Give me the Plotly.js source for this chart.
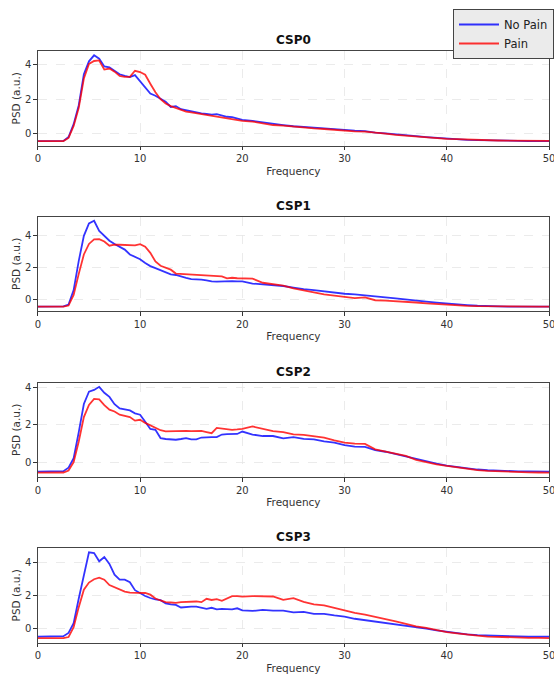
<!DOCTYPE html>
<html>
<head>
<meta charset="utf-8">
<script src="https://cdn.plot.ly/plotly-3.0.1.min.js"></script>
<style>html,body{margin:0;padding:0;background:#fff;}#chart{width:554px;height:677px;}</style>
</head>
<body>
<div id="chart"></div>
<script>
// Frequency grid (Hz)
const freq = [0,0.5,1,1.5,2,2.5,3,3.5,4,4.5,5,5.5,6,6.5,7,7.5,8,8.5,9,9.5,10,10.5,11,11.5,12,12.5,13,13.5,14,14.5,15,15.5,16,16.5,17,17.5,18,18.5,19,19.5,20,
  21,22,23,24,25,26,27,28,29,30,31,32,33,34,35,36,37,38,39,40,41,42,43,44,45,46,47,48,49,50];

const panelTitles = ["CSP0","CSP1","CSP2","CSP3"];
const seriesNames = ["No Pain","Pain"];
const xTicks = [0, 10, 20, 30, 40, 50];
const yTicks = [0, 2, 4];

const csp0NoPain = [-0.44,-0.44,-0.44,-0.44,-0.44,-0.42,-0.2,0.55,1.65,3.45,4.2,4.55,4.35,3.9,3.85,3.65,3.45,3.35,3.28,3.4,3.05,2.65,2.33,2.2,2.02,1.85,1.55,1.6,1.42,1.35,1.3,1.22,1.18,1.14,1.1,1.13,1.05,0.98,0.96,0.88,0.8,
  0.74,0.65,0.56,0.5,0.43,0.37,0.35,0.3,0.25,0.22,0.17,0.15,0.06,0.02,-0.05,-0.1,-0.15,-0.2,-0.25,-0.3,-0.33,-0.36,-0.38,-0.4,-0.41,-0.42,-0.42,-0.43,-0.43,-0.43];
const csp0Pain = [-0.44,-0.44,-0.44,-0.44,-0.44,-0.43,-0.25,0.45,1.5,3.2,4.05,4.22,4.25,3.72,3.78,3.6,3.35,3.3,3.3,3.65,3.58,3.42,2.9,2.4,2.0,1.75,1.6,1.5,1.38,1.28,1.23,1.18,1.13,1.1,1.05,1.0,0.95,0.86,0.84,0.78,0.74,
  0.7,0.6,0.5,0.47,0.4,0.35,0.3,0.27,0.22,0.18,0.13,0.12,0.04,0.0,-0.07,-0.12,-0.17,-0.21,-0.26,-0.3,-0.32,-0.35,-0.38,-0.39,-0.4,-0.41,-0.42,-0.42,-0.42,-0.42];

const csp1NoPain = [-0.43,-0.43,-0.43,-0.43,-0.43,-0.41,-0.3,0.6,2.4,3.95,4.72,4.88,4.25,3.95,3.65,3.45,3.3,3.1,2.8,2.65,2.5,2.27,2.08,1.95,1.82,1.68,1.57,1.53,1.42,1.35,1.28,1.27,1.24,1.2,1.13,1.12,1.13,1.16,1.15,1.13,1.14,
  1.0,0.95,0.9,0.85,0.75,0.65,0.6,0.52,0.47,0.37,0.33,0.28,0.2,0.15,0.08,0.0,-0.06,-0.12,-0.18,-0.24,-0.29,-0.33,-0.37,-0.4,-0.42,-0.43,-0.43,-0.43,-0.43,-0.43];
const csp1Pain = [-0.43,-0.43,-0.43,-0.43,-0.43,-0.42,-0.36,0.3,1.6,2.8,3.45,3.73,3.75,3.6,3.34,3.4,3.4,3.4,3.38,3.36,3.44,3.28,2.9,2.37,2.1,1.98,1.86,1.62,1.6,1.6,1.57,1.55,1.5,1.52,1.48,1.47,1.44,1.32,1.36,1.33,1.32,
  1.3,1.05,0.97,0.87,0.7,0.57,0.43,0.33,0.25,0.17,0.1,0.15,-0.03,-0.05,-0.08,-0.13,-0.17,-0.22,-0.27,-0.31,-0.35,-0.38,-0.4,-0.41,-0.42,-0.42,-0.42,-0.42,-0.42,-0.42];

const csp2NoPain = [-0.51,-0.51,-0.51,-0.51,-0.51,-0.49,-0.3,0.2,1.6,3.1,3.76,3.85,4.02,3.7,3.48,3.09,2.86,2.83,2.76,2.6,2.53,2.15,1.77,1.72,1.28,1.23,1.2,1.19,1.23,1.28,1.21,1.21,1.31,1.33,1.33,1.33,1.47,1.49,1.5,1.5,1.63,
  1.47,1.39,1.39,1.26,1.33,1.24,1.21,1.1,1.04,0.9,0.82,0.81,0.64,0.55,0.42,0.3,0.17,0.04,-0.08,-0.19,-0.27,-0.35,-0.4,-0.44,-0.47,-0.49,-0.5,-0.5,-0.51,-0.51];
const csp2Pain = [-0.57,-0.57,-0.57,-0.57,-0.57,-0.56,-0.45,0.0,1.1,2.4,3.05,3.37,3.35,3.04,2.8,2.7,2.53,2.45,2.4,2.21,2.26,2.09,1.95,1.85,1.7,1.64,1.65,1.66,1.68,1.66,1.65,1.66,1.66,1.6,1.54,1.82,1.78,1.73,1.72,1.74,1.77,
  1.9,1.78,1.65,1.6,1.48,1.45,1.39,1.3,1.16,1.04,0.98,0.97,0.68,0.55,0.42,0.33,0.12,-0.02,-0.12,-0.21,-0.29,-0.37,-0.43,-0.47,-0.5,-0.52,-0.54,-0.55,-0.56,-0.57];

const csp3NoPain = [-0.48,-0.48,-0.48,-0.48,-0.48,-0.45,-0.25,0.34,1.82,3.3,4.6,4.55,4.06,4.32,3.9,3.25,2.95,2.95,2.8,2.32,2.12,1.97,1.85,1.76,1.72,1.52,1.47,1.43,1.28,1.32,1.33,1.33,1.26,1.2,1.26,1.17,1.2,1.19,1.17,1.23,1.11,
  1.07,1.13,1.09,1.09,0.99,1.02,0.9,0.89,0.8,0.73,0.6,0.52,0.42,0.33,0.24,0.16,0.09,0.0,-0.1,-0.19,-0.28,-0.34,-0.38,-0.41,-0.44,-0.45,-0.46,-0.47,-0.48,-0.48];
const csp3Pain = [-0.57,-0.57,-0.57,-0.57,-0.57,-0.56,-0.5,0.1,1.3,2.35,2.78,2.98,3.07,2.95,2.63,2.5,2.35,2.23,2.17,2.16,2.17,2.15,2.05,1.82,1.7,1.6,1.58,1.56,1.6,1.62,1.62,1.64,1.6,1.8,1.73,1.78,1.68,1.82,1.96,1.96,1.93,
  1.96,1.95,1.94,1.74,1.84,1.62,1.47,1.4,1.25,1.1,0.95,0.85,0.7,0.58,0.45,0.28,0.14,0.05,-0.08,-0.2,-0.28,-0.36,-0.42,-0.47,-0.5,-0.52,-0.54,-0.55,-0.55,-0.56];

const noPainSets = [csp0NoPain, csp1NoPain, csp2NoPain, csp3NoPain];
const painSets = [csp0Pain, csp1Pain, csp2Pain, csp3Pain];

const W = 554, H = 677;
const xL = 38 / W, xR = 551 / W;
const tops = [51, 216.5, 382.5, 548];
const ph = 94.5;
const font = "DejaVu Sans, Arial, sans-serif";

const traces = [];
const layout = {
  width: W, height: H,
  margin: {l: 0, r: 0, t: 0, b: 0},
  paper_bgcolor: "#fff", plot_bgcolor: "#fff",
  font: {family: font, size: 10, color: "#333"},
  showlegend: true,
  legend: {
    x: 455 / W, y: 1 - 9 / H, xanchor: "left", yanchor: "top",
    bgcolor: "#ebebeb", bordercolor: "#444", borderwidth: 1,
    font: {family: font, size: 11.5, color: "#222"},
    itemwidth: 40, tracegroupgap: 0
  },
  annotations: []
};

for (let i = 0; i < 4; i++) {
  const sfx = i === 0 ? "" : String(i + 1);
  const yTop = 1 - tops[i] / H;
  const yBot = 1 - (tops[i] + ph) / H;
  const all = noPainSets[i].concat(painSets[i]);
  const mn = Math.min(...all), mx = Math.max(...all);
  const pad = (mx - mn) * 0.05;

  traces.push({
    x: freq, y: noPainSets[i], type: "scatter", mode: "lines",
    name: seriesNames[0], legendgroup: "np", showlegend: i === 0,
    line: {color: "rgba(0,0,255,0.8)", width: 1.8},
    xaxis: "x" + sfx, yaxis: "y" + sfx
  });
  traces.push({
    x: freq, y: painSets[i], type: "scatter", mode: "lines",
    name: seriesNames[1], legendgroup: "p", showlegend: i === 0,
    line: {color: "rgba(255,0,0,0.8)", width: 1.8},
    xaxis: "x" + sfx, yaxis: "y" + sfx
  });

  layout["xaxis" + sfx] = {
    domain: [xL, xR], anchor: "y" + sfx, range: [0, 50],
    tickvals: xTicks, ticks: "outside", ticklen: 3.5, tickcolor: "#333",
    ticklabeloverflow: "allow",
    showline: true, mirror: true, linecolor: "#444", linewidth: 1,
    showgrid: true, gridcolor: "#e6e6e6", griddash: "dash", gridwidth: 0.8,
    zeroline: false,
    tickfont: {family: font, size: 10, color: "#333"},
    title: {text: "Frequency", font: {family: font, size: 10.5, color: "#333"}, standoff: 4}
  };
  layout["yaxis" + sfx] = {
    domain: [yBot, yTop], anchor: "x" + sfx, range: [mn - pad, mx + pad],
    tickvals: yTicks, ticks: "outside", ticklen: 3.5, tickcolor: "#333",
    showline: true, mirror: true, linecolor: "#444", linewidth: 1,
    showgrid: true, gridcolor: "#e6e6e6", griddash: "dash", gridwidth: 0.8,
    zeroline: false,
    tickfont: {family: font, size: 10, color: "#333"},
    title: {text: "PSD (a.u.)", font: {family: font, size: 10.5, color: "#333"}, standoff: 2}
  };
  layout.annotations.push({
    text: "<b>" + panelTitles[i] + "</b>",
    xref: "paper", yref: "paper", x: (xL + xR) / 2, y: yTop,
    xanchor: "center", yanchor: "bottom", yshift: 2, showarrow: false,
    font: {family: font, size: 12, color: "#111"}
  });
}

Plotly.newPlot("chart", traces, layout, {displayModeBar: false, staticPlot: true});
</script>
</body>
</html>
